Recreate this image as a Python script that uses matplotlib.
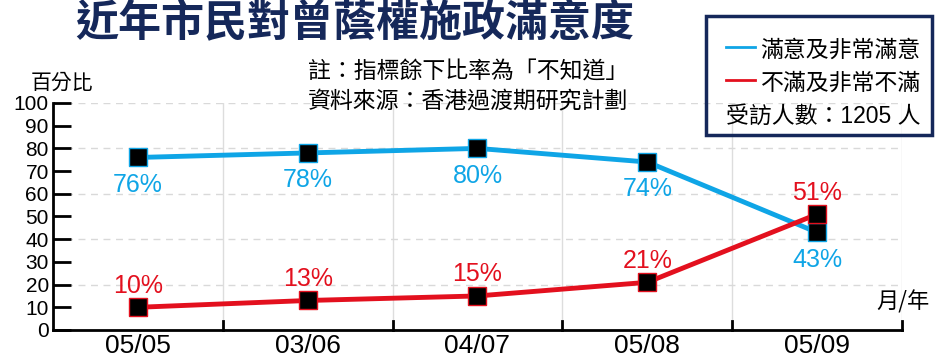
import matplotlib.pyplot as plt
from matplotlib.patches import Rectangle

plt.rcParams['font.family'] = ['Liberation Sans', 'Noto Sans CJK TC']

dates = ['05/05', '03/06', '04/07', '05/08', '05/09']
satisfied = [76, 78, 80, 74, 43]
dissatisfied = [10, 13, 15, 21, 51]

blue = '#0fa5e6'
red = '#e3101e'
navy = '#15285a'

fig = plt.figure(figsize=(9.39, 3.62), dpi=100)
ax = fig.add_axes([0.0564, 0.0884, 0.9042, 0.6271])

x = range(len(dates))
ax.plot(x, satisfied, color=blue, lw=3.5, marker='s', ms=13,
        mfc='black', mec=blue, mew=1, zorder=5)
ax.plot(x, dissatisfied, color=red, lw=3.5, marker='s', ms=13,
        mfc='black', mec=red, mew=1, zorder=6)

for i, v in enumerate(satisfied):
    ax.annotate(f'{v}%', (i, v), xytext=(0, -11), textcoords='offset points',
                ha='center', va='top', color=blue, fontsize=18)
for i, v in enumerate(dissatisfied):
    ax.annotate(f'{v}%', (i, v), xytext=(0, 7), textcoords='offset points',
                ha='center', va='bottom', color=red, fontsize=18)

ax.set_xlim(-0.5, 4.5)
ax.set_ylim(0, 100)
ax.set_yticks(range(0, 101, 10))
ax.tick_params(axis='y', direction='in', length=13, width=2, labelsize=15, pad=3)
ax.set_xticks(x)
ax.set_xticklabels(dates, fontsize=19)
ax.tick_params(axis='x', length=0, pad=3)
for b in [0.5, 1.5, 2.5, 3.5, 4.5]:
    ax.axvline(b, color='#dddddd', lw=1, zorder=0)
    ax.plot([b, b], [0, 4], color='black', lw=2, clip_on=False, zorder=3)
for g in range(20, 101, 20):
    ax.axhline(g, color='#d9d9d9', lw=1, ls=(0, (5, 4)), zorder=0)
for s in ['top', 'right']:
    ax.spines[s].set_visible(False)
ax.spines['left'].set_linewidth(2)
ax.spines['bottom'].set_linewidth(2)

fig.text(0.378, 0.935, '近年市民對曾蔭權施政滿意度', ha='center', va='center',
         fontsize=31, fontweight='heavy', color=navy, family='Noto Sans CJK TC')
fig.text(0.669, 0.80, '註：指標餘下比率為「不知道」', ha='right', va='center',
         fontsize=16.5, family='Noto Sans CJK TC', fontweight='light')
fig.text(0.669, 0.717, '資料來源：香港過渡期研究計劃', ha='right', va='center',
         fontsize=16.5, family='Noto Sans CJK TC', fontweight='light')
fig.text(0.066, 0.77, '百分比', ha='center', va='center', fontsize=15,
         family='Noto Sans CJK TC')
fig.text(0.962, 0.165, '月/年', ha='center', va='center', fontsize=16,
         family='Noto Sans CJK TC')

fig.patches.append(Rectangle((0.752, 0.627), 0.241, 0.33, transform=fig.transFigure,
                             fill=False, ec=navy, lw=2.5))
fig.lines.append(plt.Line2D([0.773, 0.804], [0.87, 0.87], transform=fig.transFigure,
                            color=blue, lw=2))
fig.lines.append(plt.Line2D([0.773, 0.804], [0.778, 0.778], transform=fig.transFigure,
                            color=red, lw=2))
fig.text(0.81, 0.862, '滿意及非常滿意', va='center', fontsize=16.5)
fig.text(0.81, 0.77, '不滿及非常不滿', va='center', fontsize=16.5)
fig.text(0.773, 0.678, '受訪人數：1205 人', va='center', fontsize=16.5)

fig.savefig('out.png', dpi=100)
